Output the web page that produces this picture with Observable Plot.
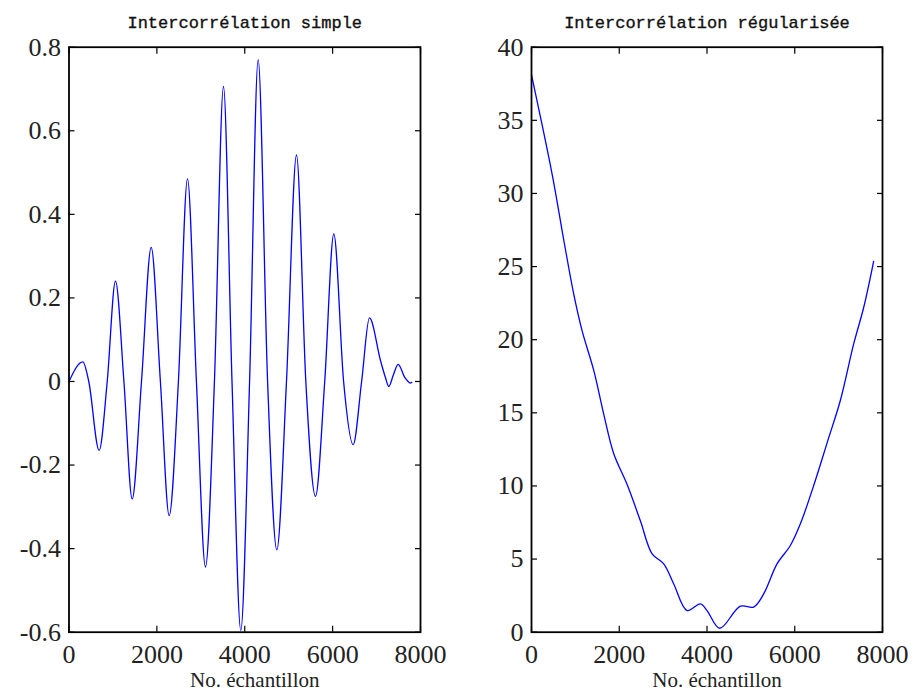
<!DOCTYPE html>
<html><head><meta charset="utf-8">
<script src="https://cdn.jsdelivr.net/npm/d3@7"></script>
<script src="https://cdn.jsdelivr.net/npm/@observablehq/plot@0.6"></script>
<style>
body{margin:0;background:#fff;}
#wrap{position:relative;width:912px;height:696px;overflow:hidden;}
#wrap svg{position:absolute;top:0;}
</style></head><body><div id="wrap"></div>
<script>
const titles = ["Intercorrélation simple", "Intercorrélation régularisée"];
const xLabel = "No. échantillon";
const xTicks = [0, 2000, 4000, 6000, 8000];
const yTicksLeft = [-0.6, -0.4, -0.2, 0, 0.2, 0.4, 0.6, 0.8];
const yTicksRight = [0, 5, 10, 15, 20, 25, 30, 35, 40];

// Intercorrélation simple (extrema and zero crossings)
const simpleX = [0, 315, 450, 686, 870, 1058, 1250, 1438, 1650, 1871, 2080, 2280, 2490, 2697, 2900, 3106, 3310, 3516, 3710, 3910, 4110, 4305, 4520, 4730, 4950, 5178, 5390, 5610, 5820, 6027, 6250, 6467, 6660, 6839, 7090, 7200, 7278, 7380, 7492, 7640, 7772, 7800];
const simpleY = [0, 0.047, 0, -0.165, 0, 0.24, 0, -0.281, 0, 0.321, 0, -0.321, 0, 0.485, 0, -0.444, 0, 0.706, 0, -0.596, 0, 0.770, 0, -0.403, 0, 0.542, 0, -0.275, 0, 0.353, 0, -0.151, 0, 0.152, 0.05, 0.01, -0.012, 0.015, 0.041, 0.01, -0.004, -0.002];

// Intercorrélation régularisée
const regX = [0, 471, 736, 964, 1154, 1419, 1647, 1875, 2180, 2483, 2749, 3014, 3242, 3546, 3850, 4001, 4290, 4761, 5064, 5292, 5596, 5900, 6128, 6469, 6743, 7039, 7343, 7571, 7798];
const regY = [38.1, 31.3, 26.8, 23.1, 20.6, 17.9, 14.9, 12.2, 10.1, 7.6, 5.36, 4.67, 3.3, 1.48, 1.94, 1.48, 0.27, 1.78, 1.72, 2.62, 4.67, 5.93, 7.41, 10.37, 13.0, 15.84, 19.71, 22.2, 25.36];

const serif = "'Liberation Serif', 'Times New Roman', serif";
const mono = "'Liberation Mono', 'Courier New', monospace";

function panel({xs, ys, yDomain, yTicks, yFormat, title, marginLeft, marginRight, curve}) {
  const data = xs.map((x, i) => ({x, y: ys[i]}));
  return Plot.plot({
    width: 456, height: 696,
    marginLeft, marginRight, marginTop: 46.7, marginBottom: 64.3,
    style: {fontFamily: serif, background: "white", color: "black"},
    x: {domain: [0, 8000]},
    y: {domain: yDomain},
    marks: [
      Plot.line(data, {x: "x", y: "y", stroke: "#0000ff", strokeWidth: 1.3, curve}),
      Plot.frame({stroke: "black", strokeWidth: 1.8}),
      Plot.axisX(xTicks, {anchor: "bottom", tickSize: 0, tickPadding: 12, fontSize: 26, fontFamily: serif, fill: "#222", label: null, tickFormat: d => String(d)}),
      Plot.axisX(xTicks, {anchor: "bottom", tickSize: -6, fill: "none", label: null, strokeWidth: 1.2}),
      Plot.axisX(xTicks, {anchor: "top", tickSize: -6, fill: "none", label: null, strokeWidth: 1.2}),
      Plot.axisY(yTicks, {anchor: "left", tickSize: 0, tickPadding: 8, fontSize: 26, fontFamily: serif, fill: "#222", label: null, tickFormat: yFormat}),
      Plot.axisY(yTicks, {anchor: "left", tickSize: -6, fill: "none", label: null, strokeWidth: 1.2}),
      Plot.axisY(yTicks, {anchor: "right", tickSize: -6, fill: "none", label: null, strokeWidth: 1.2}),
      Plot.text([title], {frameAnchor: "top", dy: -31, fontFamily: mono, fontSize: 17, fill: "#111", stroke: "#111", strokeWidth: 0.35}),
      Plot.text([xLabel], {frameAnchor: "bottom", dy: 55, dx: 10, fontFamily: serif, fontSize: 21, fill: "#222"})
    ]
  });
}

const left = panel({
  xs: simpleX, ys: simpleY, yDomain: [-0.6, 0.8], yTicks: yTicksLeft,
  yFormat: d => d === 0 ? "0" : (d < 0 ? "-" : "") + Math.abs(d).toFixed(1),
  title: titles[0], marginLeft: 68.5, marginRight: 36, curve: "monotone-x"
});
const right = panel({
  xs: regX, ys: regY, yDomain: [0, 40], yTicks: yTicksRight,
  yFormat: d => String(d),
  title: titles[1], marginLeft: 75, marginRight: 30, curve: "catmull-rom"
});
left.style.left = "0px";
right.style.left = "456px";
document.getElementById("wrap").append(left, right);
</script>
</body></html>
